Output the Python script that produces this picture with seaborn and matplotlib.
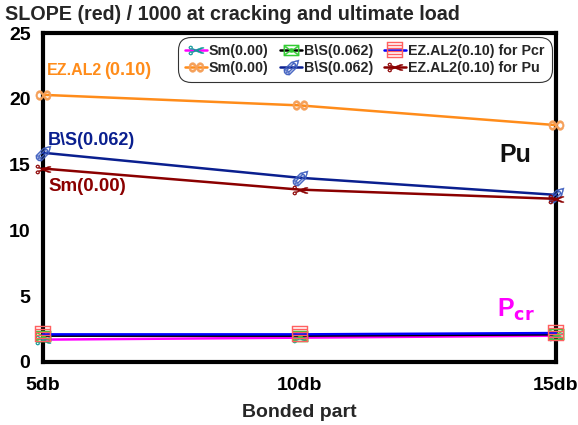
import matplotlib
matplotlib.use("Agg")
import matplotlib.pyplot as plt
import seaborn as sns
import pandas as pd

sns.set_theme(style="white")
plt.rcParams["font.family"] = ["Liberation Sans", "DejaVu Sans"]
plt.rcParams["font.weight"] = "bold"

# bonded part categories
positions = ["5db", "10db", "15db"]

# slope / 1000 at cracking load (Pcr)
pcr_sm = [1.7, 1.85, 2.0]
pcr_bs = [2.0, 2.0, 2.1]
pcr_ez = [2.1, 2.1, 2.2]

# slope / 1000 at ultimate load (Pu)
pu_orange = [20.3, 19.5, 18.0]
pu_navy = [15.9, 14.0, 12.7]
pu_red = [14.7, 13.1, 12.4]

legend_labels = ["Sm(0.00)", "Sm(0.00)", "B\\S(0.062)", "B\\S(0.062)",
                 "EZ.AL2(0.10) for Pcr", "EZ.AL2(0.10) for Pu"]

series = [
    # values, line colour, marker, marker colour, label
    (pcr_sm, "#ff00ff", "$\u2702$", "#0f9a9a", legend_labels[0]),
    (pu_orange, "#ff8c1a", "$\u221e$", "#f5a05a", legend_labels[1]),
    (pcr_bs, "#000000", "$\u2709$", "#33cc33", legend_labels[2]),
    (pu_navy, "#0a1f8f", "$\u2710$", "#4060c0", legend_labels[3]),
    (pcr_ez, "#0000ff", "$\u25a4$", "#ff6060", legend_labels[4]),
    (pu_red, "#8b0000", "$\u2702$", "#8b0000", legend_labels[5]),
]

fig = plt.figure(figsize=(5.78, 4.25), dpi=100)
ax = fig.add_axes([43 / 578, 1 - 362 / 425, (556 - 43) / 578, (362 - 33) / 425])

xs = list(range(len(positions)))
for vals, lc, mk, mc, lab in series:
    df = pd.DataFrame({"x": xs, "y": vals})
    sns.lineplot(data=df, x="x", y="y", ax=ax, color=lc, lw=1.8,
                 marker=mk, markersize=11, markeredgewidth=0.3,
                 markerfacecolor=mc, markeredgecolor=mc,
                 label=lab, clip_on=False, zorder=3)

ax.set_xlim(0, 2)
ax.set_ylim(0, 25)
ax.set_xticks(xs)
ax.set_xticklabels(positions)
ax.set_yticks([0, 5, 10, 15, 20, 25])
ax.tick_params(axis="both", labelsize=14, length=6, width=1, colors="#333333",
               direction="inout", labelcolor="black")
for lab in ax.get_xticklabels() + ax.get_yticklabels():
    lab.set_fontweight("bold")
ax.tick_params(axis="x", pad=8)
ax.tick_params(axis="y", pad=6)
ax.set_xlabel("Bonded part", fontsize=14, fontweight="bold", labelpad=7)
ax.set_ylabel("")
for sp in ax.spines.values():
    sp.set_visible(True)
    sp.set_color("black")
    sp.set_linewidth(3)

fig.text(5 / 578, 1 - 15 / 425, "SLOPE (red) / 1000 at cracking and ultimate load",
         fontsize=14.2, fontweight="bold", va="center", ha="left")

leg = ax.legend(loc="upper right", ncol=3, fontsize=10.3, frameon=True,
                fancybox=True, edgecolor="black", handlelength=1.5,
                handletextpad=0.15, columnspacing=0.8, labelspacing=0.15,
                borderpad=0.3, bbox_to_anchor=(1.0, 1.0))
leg.get_frame().set_linewidth(0.8)
leg.get_frame().set_boxstyle("round,pad=0.2,rounding_size=0.9")
for t in leg.get_texts():
    t.set_fontweight("bold")

ax.text(0.015, 21.8, "EZ.AL2", color="#ff8c1a", fontsize=11.5, fontweight="bold")
ax.text(0.24, 21.8, "(0.10)", color="#ff8c1a", fontsize=13, fontweight="bold")
ax.text(0.02, 16.5, "B\\S(0.062)", color="#0a1f8f", fontsize=13, fontweight="bold")
ax.text(0.02, 13.0, "Sm(0.00)", color="#8b0000", fontsize=13.5, fontweight="bold")
ax.text(1.78, 15.2, "Pu", color="#111111", fontsize=18, fontweight="bold")
ax.text(1.77, 3.4, "P$_{\\mathbf{cr}}$", color="#ff00ff", fontsize=18, fontweight="bold")

fig.savefig("out.png", dpi=100)
